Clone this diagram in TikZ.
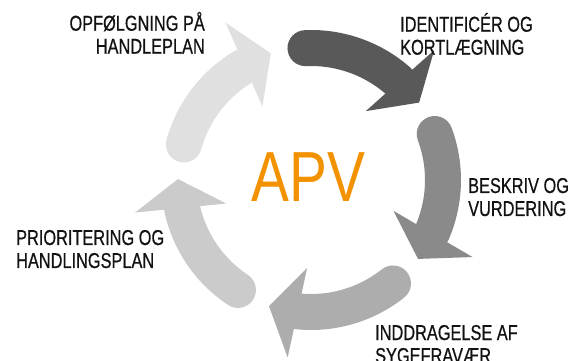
\documentclass[tikz,border=0pt]{standalone}
\usepackage{fontspec}
\newfontfamily\phasefont{Liberation Sans}[FakeStretch=0.76,FakeBold=0.6]
\newfontfamily\apvfont{Liberation Sans}[FakeStretch=0.8]
\definecolor{apvorange}{HTML}{F39200}
\definecolor{arrowA}{HTML}{595959}
\definecolor{arrowB}{HTML}{8A8A8A}
\definecolor{arrowC}{HTML}{ADADAD}
\definecolor{arrowD}{HTML}{CBCBCB}
\definecolor{arrowE}{HTML}{E0E0E0}

\begin{document}
\begin{tikzpicture}[x=1pt,y=1pt,
  phase/.style={font=\phasefont\fontsize{21.5}{23}\selectfont, inner sep=0pt, text=black!93}]
  \useasboundingbox (-311,-181) rectangle (259,180);
  % five curved arrows round the cycle
  \foreach \k/\col in {0/arrowA,1/arrowB,2/arrowC,3/arrowD,4/arrowE}{
    \pgfmathsetmacro\a{92.4-72*\k}
    \pgfmathsetmacro\b{48.5-72*\k}
    \draw[\col, line width=36pt, line cap=round] (\a:132pt) arc[start angle=\a, end angle=\b, radius=132pt];
    \fill[\col] ({46.5-72*\k}:179pt) -- ({35.6-72*\k}:133pt) -- ({51.5-72*\k}:88pt) -- cycle;
  }
  \node[font=\apvfont\fontsize{71}{71}\selectfont, text=apvorange, inner sep=0pt] (apv) at (-2.5,2.5) {APV};
  % phase labels (base = last line)
  \node[phase, align=left, anchor=base west] (identificer) at (89,125.3) {IDENTIFICÉR OG\\KORTLÆGNING};
  \node[phase, align=left, anchor=base west] (beskriv) at (157,-36) {BESKRIV OG\\VURDERING};
  \node[phase, align=left, anchor=base west] (inddragelse) at (64,-183) {INDDRAGELSE AF\\SYGEFRAVÆR};
  \node[phase, align=left, anchor=base west] (prioritering) at (-295,-88) {PRIORITERING OG\\HANDLINGSPLAN};
  \node[phase, align=right, anchor=base east] (opfoelgning) at (-106,126.3) {OPFØLGNING PÅ\\HANDLEPLAN};
\end{tikzpicture}
\end{document}
